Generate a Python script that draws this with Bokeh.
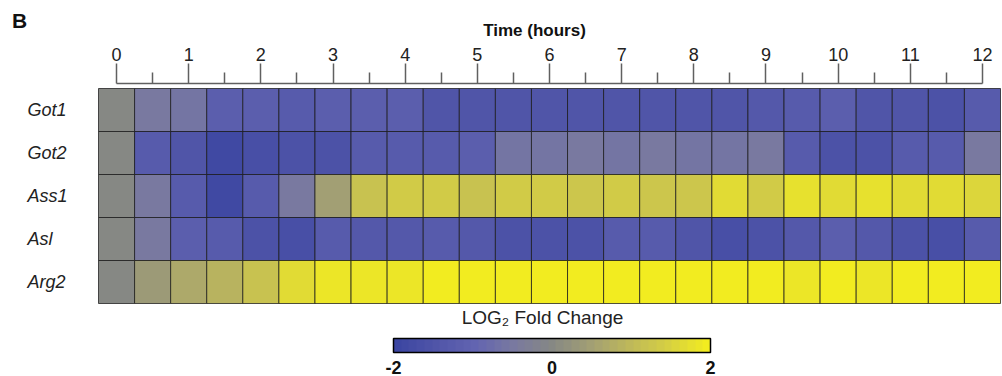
import numpy as np
from bokeh.plotting import figure
from bokeh.models import (ColumnDataSource, LinearColorMapper, ColorBar, FixedTicker,
                          Range1d, Label)
from bokeh.core.properties import value
from bokeh.embed import file_html
from bokeh.resources import INLINE

# ---------------- data ----------------
genes = ["Got1", "Got2", "Ass1", "Asl", "Arg2"]
times = [0, 0.5, 1, 1.5, 2, 2.5, 3, 3.5, 4, 4.5, 5, 5.5, 6, 6.5, 7, 7.5, 8, 8.5,
         9, 9.5, 10, 10.5, 11, 11.5, 12]
hour_ticks = [0, 1, 2, 3, 4, 5, 6, 7, 8, 9, 10, 11, 12]
half_hour_ticks = [0.5, 1.5, 2.5, 3.5, 4.5, 5.5, 6.5, 7.5, 8.5, 9.5, 10.5, 11.5]

got1 = [0, -0.5, -0.55, -1.2, -1.2, -1.25, -1.2, -1.2, -1.2, -1.5, -1.5, -1.5, -1.5,
        -1.45, -1.5, -1.5, -1.45, -1.5, -1.4, -1.25, -1.2, -1.5, -1.5, -1.55, -1.25]
got2 = [0, -1.25, -1.5, -1.85, -1.7, -1.6, -1.55, -1.3, -1.3, -1.25, -1.2, -0.55, -0.55,
        -0.5, -0.55, -0.5, -0.55, -0.55, -0.5, -1.25, -1.6, -1.6, -1.25, -1.3, -0.5]
ass1 = [0, -0.5, -1.25, -1.85, -1.25, -0.5, 0.45, 1.15, 1.35, 1.35, 1.15, 1.35, 1.35,
        1.3, 1.35, 1.3, 1.3, 1.65, 1.35, 1.75, 1.65, 1.75, 1.7, 1.7, 1.6]
asl = [0, -0.5, -1.2, -1.25, -1.6, -1.7, -1.25, -1.35, -1.35, -1.25, -1.35, -1.55, -1.55,
       -1.6, -1.25, -1.25, -1.5, -1.65, -1.6, -1.35, -1.2, -1.4, -1.55, -1.7, -1.25]
arg2 = [0, 0.4, 0.65, 0.9, 1.15, 1.7, 1.9, 1.85, 1.9, 1.95, 1.95, 1.95, 1.95, 1.95,
        1.95, 1.95, 1.95, 1.95, 1.95, 1.85, 1.95, 1.9, 1.95, 1.95, 1.95]
series = [got1, got2, ass1, asl, arg2]

colorbar_ticks = [-2, 0, 2]
colorbar_tick_labels = {-2: "-2", 0: "0", 2: "2"}
colorbar_title = "LOG\u2082 Fold Change"
x_title = "Time (hours)"
panel_letter = "B"

# ---------------- palette (blue - grey - yellow, stepped) ----------------
anchor_vals = [-2.0, -1.5, -1.0, -0.5, 0.0, 0.5, 1.0, 1.5, 2.0]
anchor_rgb = [(60, 70, 162), (80, 85, 168), (98, 100, 177), (121, 121, 160),
              (134, 136, 132), (162, 159, 116), (190, 184, 90), (214, 208, 66),
              (242, 236, 32)]
n_steps = 41
steps = np.linspace(-2, 2, n_steps)
palette = []
for s in steps:
    rgb = [int(round(np.interp(s, anchor_vals, [c[k] for c in anchor_rgb]))) for k in range(3)]
    palette.append("#%02x%02x%02x" % tuple(rgb))
mapper = LinearColorMapper(palette=palette, low=-2, high=2)

# ---------------- sources ----------------
xs, ys, vals = [], [], []
for i, row in enumerate(series):
    for t, v in zip(times, row):
        xs.append(t)
        ys.append(len(genes) - 1 - i)
        vals.append(v)
src = ColumnDataSource(dict(x=xs, y=ys, v=vals))
label_src = ColumnDataSource(dict(gene=genes, y=[len(genes) - 1 - i for i in range(len(genes))]))

# ---------------- figure ----------------
LEFT = 24  # left border reserved for the panel letter
px_per_unit = 902 / 12.5
x_start = -0.25 - (98 - LEFT) / px_per_unit
x_end = x_start + (1002 - LEFT) / px_per_unit
row_px = 43.0
y_end = 4.5 + 5 / row_px
y_start = y_end - 293 / row_px

FONT = "Liberation Sans"

p = figure(width=1002, height=376, x_range=Range1d(x_start, x_end),
           y_range=Range1d(y_start, y_end), x_axis_location="above",
           y_axis_location=None, toolbar_location=None, output_backend="svg",
           min_border_left=LEFT, min_border_right=0, min_border_top=83, min_border_bottom=0)
p.outline_line_color = None
p.xgrid.visible = False
p.ygrid.visible = False
p.background_fill_color = "white"
p.border_fill_color = "white"

p.rect(x="x", y="y", width=0.5, height=1, source=src,
       fill_color={"field": "v", "transform": mapper},
       line_color="#1a1a1a", line_alpha=0.75, line_width=1)

p.text(x=x_start + (27 - LEFT) / px_per_unit, y="y", text="gene", source=label_src,
       text_font=value(FONT), text_font_size="18px", text_font_style="italic",
       text_align="left", text_baseline="middle", text_color="#222222")

ax = p.xaxis[0]
ax.ticker = FixedTicker(ticks=hour_ticks, minor_ticks=half_hour_ticks)
ax.bounds = (0, 12)
ax.axis_line_color = "#606060"
ax.axis_line_width = 1.5
ax.major_tick_line_color = "#606060"
ax.major_tick_line_width = 1.5
ax.minor_tick_line_color = "#606060"
ax.minor_tick_line_width = 1.5
ax.major_tick_in = 0
ax.major_tick_out = 20
ax.minor_tick_in = 0
ax.minor_tick_out = 11
ax.major_label_standoff = 3
ax.major_label_text_font = FONT
ax.major_label_text_font_size = "18px"
ax.major_label_text_color = "#222222"

# axis title placed in its own panel above the axis so it can sit where the reference has it
p.add_layout(Label(x=534 - LEFT, y=14, x_units="screen", y_units="screen",
                   text=x_title, text_font=FONT, text_font_size="17px",
                   text_font_style="bold", text_align="center", text_baseline="middle",
                   text_color="#111111"), "above")

cb = ColorBar(color_mapper=mapper, orientation="horizontal", width=317, height=14,
              location=(393 - LEFT, 0), padding=0, ticker=FixedTicker(ticks=colorbar_ticks),
              major_label_overrides=colorbar_tick_labels,
              major_label_text_font=FONT, major_label_text_font_size="18px",
              major_label_text_font_style="bold", major_label_text_color="#111111",
              label_standoff=8, major_tick_line_color=None,
              bar_line_color="black", bar_line_width=1.5,
              background_fill_color=None, border_line_color=None)
p.add_layout(cb)

p.add_layout(Label(x=542 - LEFT, y=376 - 317, x_units="screen", y_units="screen",
                   text=colorbar_title, text_font=FONT, text_font_size="19px",
                   text_align="center", text_baseline="middle", text_color="#222222"))
p.add_layout(Label(x=10, y=376 - 20, x_units="screen", y_units="screen",
                   text=panel_letter, text_font=FONT, text_font_size="21px",
                   text_font_style="bold", text_align="center", text_baseline="middle",
                   text_color="#111111"), "left")

open("out.html", "w").write(file_html(p, INLINE))
